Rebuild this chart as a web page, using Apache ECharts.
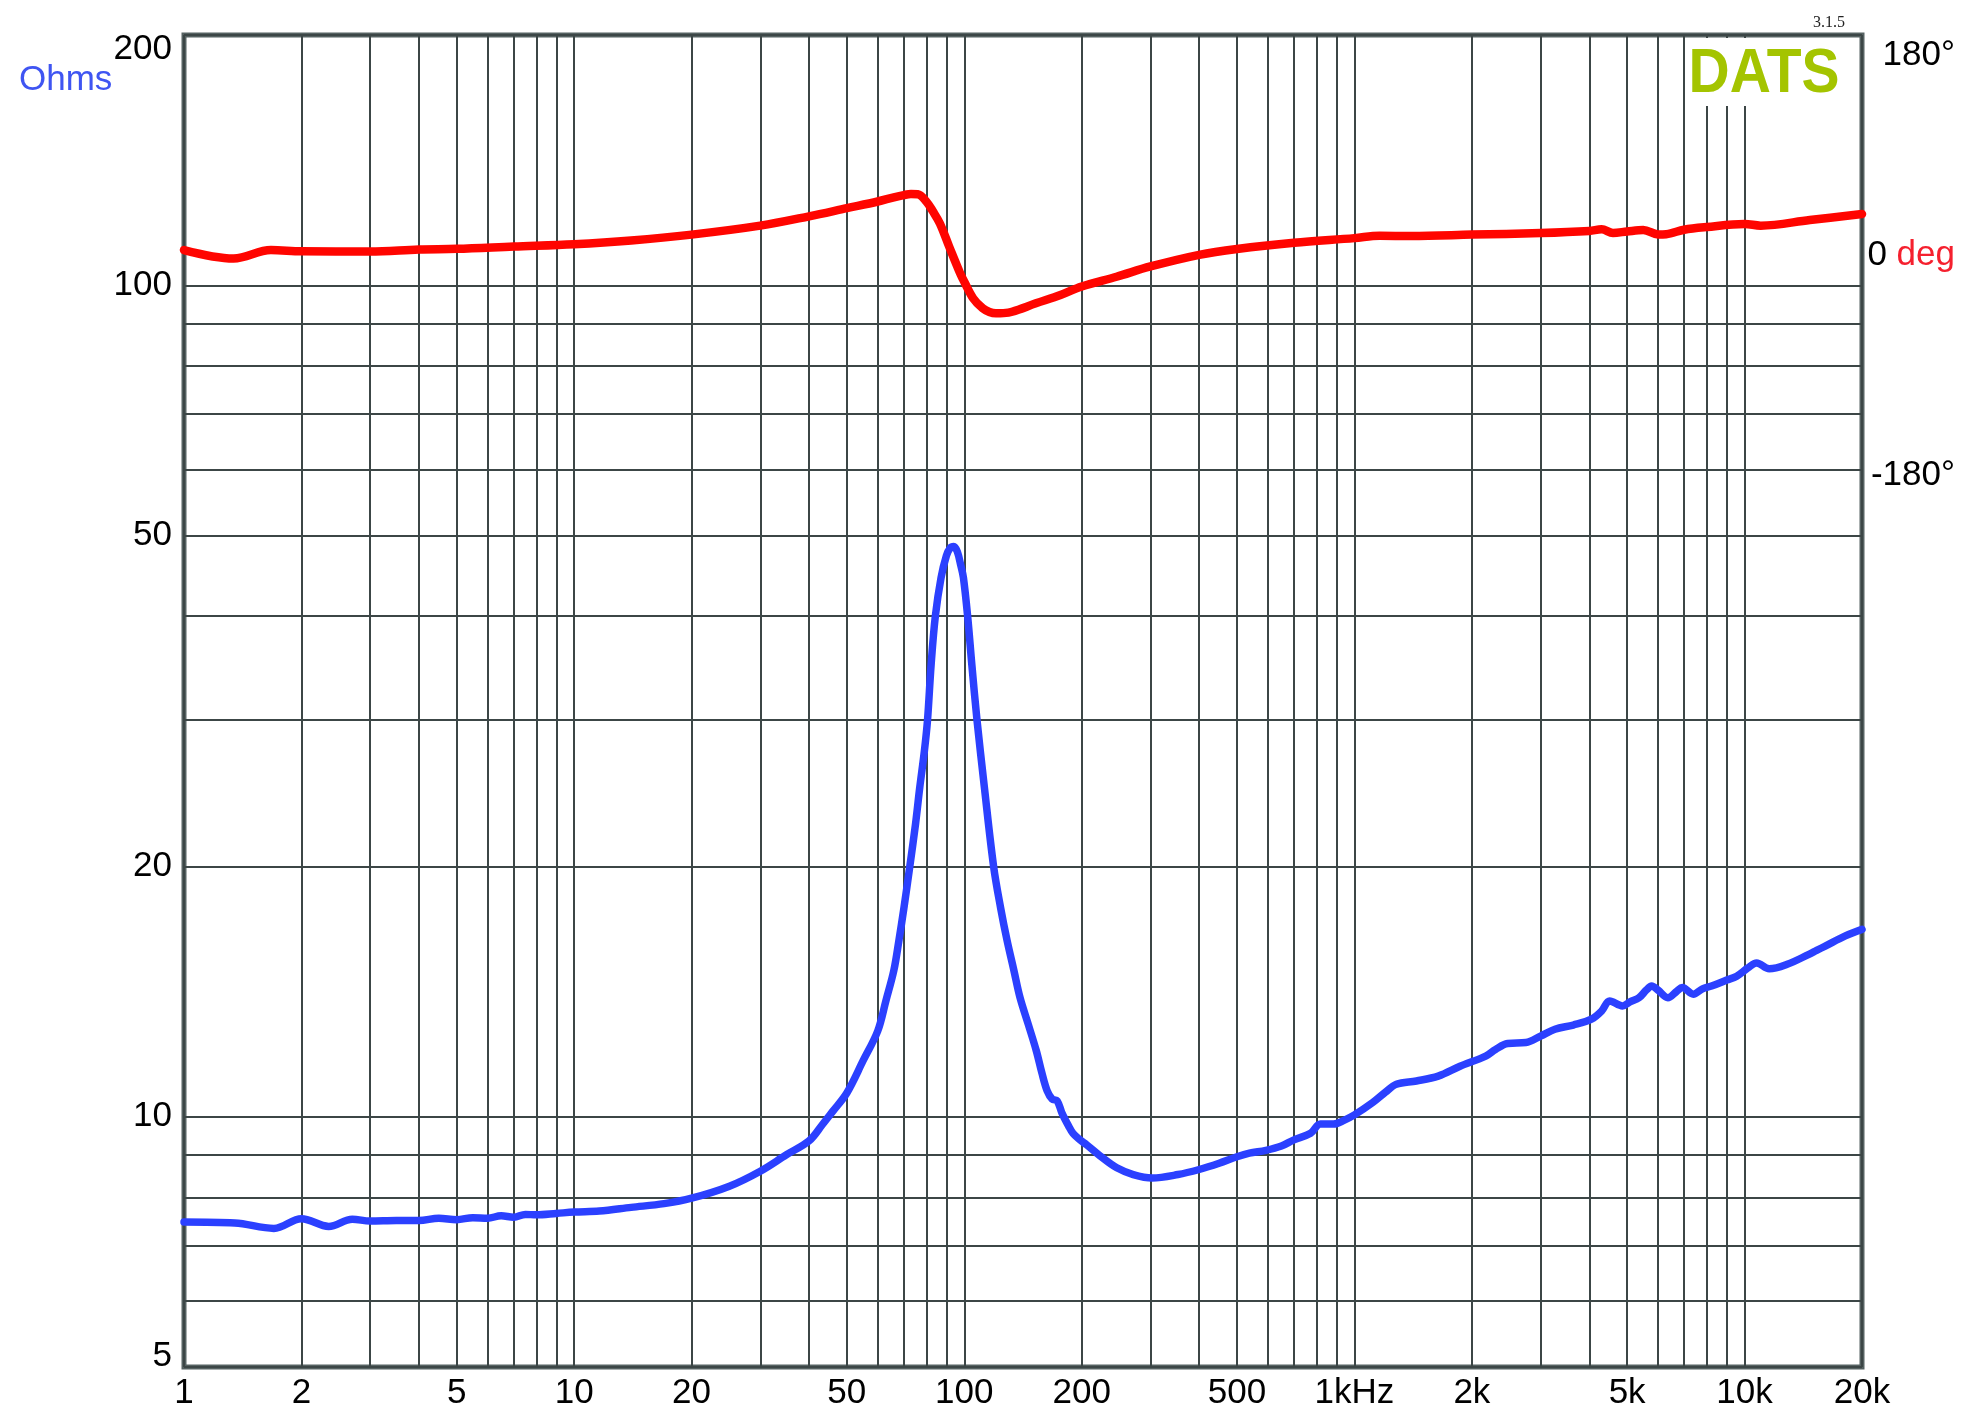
<!DOCTYPE html>
<html>
<head>
<meta charset="utf-8">
<script src="https://cdn.jsdelivr.net/npm/echarts@6/dist/echarts.min.js"></script>
<style>
html,body{margin:0;padding:0;background:#fff;}
#chart{width:1978px;height:1418px;}
</style>
</head>
<body>
<div id="chart"></div>
<script>
// ---- data ----
const impFreq = [1,1.35,1.7,2,2.35,2.7,3,3.5,4,4.5,5,5.5,6,6.5,7,7.5,8,9,10,11.6,14,17,20,25,30,35,40,43.4,46,50,55,60,63,66,68,70,72.5,75,76.9,79,80.5,82.2,84.3,87.2,90,92,94,96,98,99.5,102,104.6,107.8,112.6,118.9,124,128.7,134,139,146,153,158,163,168,173,178,185,190,198,206,223,246,271,303,353,400,450,500,538,593,650,700,772,818,884,940,1000,1114,1200,1281,1442,1640,1865,2170,2300,2470,2750,3000,3266,3639,4051,4300,4510,4865,5100,5361,5600,5779,6000,6358,6700,6925,7389,7800,8229,9000,9549,10200,10738,11568,12862,14620,15300,16100,18130,20000];
const impOhms = [7.47,7.45,7.34,7.54,7.38,7.53,7.49,7.5,7.5,7.55,7.52,7.56,7.55,7.6,7.57,7.63,7.62,7.65,7.68,7.7,7.78,7.86,7.98,8.25,8.6,9.0,9.35,9.8,10.15,10.68,11.67,12.68,13.8,15.0,16.3,17.8,20,22.5,24.9,27.5,30,34.9,40,44.5,47.3,48.3,48.5,47.8,46,44.5,40,34.9,30,24.9,20,17.8,16.3,15.0,13.9,12.9,12.0,11.3,10.75,10.5,10.45,10.1,9.75,9.55,9.38,9.25,8.97,8.68,8.52,8.44,8.52,8.64,8.79,8.95,9.04,9.11,9.22,9.38,9.55,9.8,9.8,9.9,10.05,10.4,10.7,10.94,11.04,11.19,11.5,11.83,12.05,12.25,12.28,12.5,12.74,12.89,13.1,13.4,13.78,13.59,13.75,13.9,14.2,14.36,14.2,13.9,14.15,14.3,14.04,14.25,14.36,14.6,14.76,15.1,15.31,15.06,15.25,15.68,15.85,16.04,16.5,16.8];

const phaseFreq = [1,1.34,1.67,2,3,4,5,7,10,14,20,30,40,50,60,66,70,73,76,80,83,86.6,91.5,97.6,100,105.4,111.5,116,120.5,126,132.6,152.6,176.4,200,245.6,300,400,500,700,1000,1160,1400,2000,3000,4000,4300,4600,5000,5500,6000,6300,7000,8000,10000,11000,14700,20000];
const phaseDeg = [2.6,-4.6,2.6,1.5,1.3,3.1,3.6,5.6,7.6,10.8,15.8,23.5,31.5,38.5,44.2,47.8,49.7,50.6,50.4,44,36,25.4,5.4,-17.4,-24.6,-38.8,-47.4,-50.6,-51.7,-51.5,-50.3,-43.1,-36,-28.6,-20.3,-11.5,-1.5,3.5,8.8,12.8,14.8,14.6,15.8,17.2,19,20.3,17.2,18.5,19.7,16,16.2,20,22.3,24.9,23.5,28.3,33.4];

const xGridVals = [1,2,3,4,5,6,7,8,9,10,20,30,40,50,60,70,80,90,100,200,300,400,500,600,700,800,900,1000,2000,3000,4000,5000,6000,7000,8000,9000,10000,20000];
const xLabelVals = [1,2,5,10,20,50,100,200,500,1000,2000,5000,10000,20000];
const xLabelText = ['1','2','5','10','20','50','100','200','500','1kHz','2k','5k','10k','20k'];
const yGridVals = [5,6,7,8,9,10,20,30,40,50,60,70,80,90,100,200];
const yLabelVals = [5,10,20,50,100,200];
const phaseLabelVals = [180,0,-180];

// ---- chart ----
const FONT = '"Liberation Sans", Arial, sans-serif';
const gridColor = '#3c4646';
const chart = echarts.init(document.getElementById('chart'), null, {renderer:'canvas'});

function nearestLabel(v){
  let best = 0, bd = Infinity;
  xLabelVals.forEach((x,i)=>{ const d = Math.abs(Math.log10(x)-Math.log10(v)); if(d<bd){bd=d;best=i;} });
  return xLabelText[best];
}

const option = {
  animation: false,
  backgroundColor: '#ffffff',
  grid: {left:184, right:116, top:35, bottom:51, show:true, borderColor:'#566262', borderWidth:5, backgroundColor:'#ffffff'},
  xAxis: {
    type:'log', logBase:10, min:1, max:20000,
    axisLine:{show:false},
    axisTick:{show:false, customValues:xGridVals},
    splitLine:{show:true, lineStyle:{color:gridColor, width:2}},
    minorSplitLine:{show:false},
    axisLabel:{customValues:xLabelVals, formatter:(v)=>nearestLabel(v), fontSize:35, fontFamily:FONT, color:'#000', margin:9}
  },
  yAxis: [
    {
      type:'log', logBase:10, min:5, max:200, position:'left',
      axisLine:{show:false},
      axisTick:{show:false, customValues:yGridVals},
      splitLine:{show:true, lineStyle:{color:gridColor, width:2}},
      axisLabel:{customValues:yLabelVals, fontSize:35, fontFamily:FONT, color:'#000', margin:12,
        formatter:(v)=>{ const r=Math.round(v); if(r===200) return '{t|200}'; if(r===5) return '{b|5}'; return '{n|'+r+'}'; },
        rich:{
          n:{fontSize:35, fontFamily:FONT, color:'#000'},
          t:{fontSize:35, fontFamily:FONT, color:'#000', padding:[28,0,0,0]},
          b:{fontSize:35, fontFamily:FONT, color:'#000', padding:[0,0,22,0]}
        }}
    },
    {
      type:'value', min:-954.8, max:186.9, position:'right',
      axisLine:{show:false}, axisTick:{show:false, customValues:phaseLabelVals}, splitLine:{show:false},
      axisLabel:{customValues:phaseLabelVals, align:'right', margin:93, fontSize:35, fontFamily:FONT, color:'#000',
        formatter:(v)=>{ const r=Math.round(v); if(r===0) return '{z|0 }{r|deg}'; return '{s|'+r+'°}'; },
        rich:{
          z:{fontSize:35, fontFamily:FONT, color:'#000', padding:[4,0,0,0]},
          r:{fontSize:35, fontFamily:FONT, color:'#f5202e', padding:[4,0,0,0]},
          s:{fontSize:35, fontFamily:FONT, color:'#000', padding:[24,0,0,0]}
        }}
    }
  ],
  graphic: [
    {type:'rect', z:1, shape:{x:1686, y:38, width:172, height:68}, style:{fill:'#ffffff'}},
    {type:'text', z:3, x:1764, y:75, scaleY:1.1, style:{text:'DATS', font:'bold 57px '+FONT, fill:'#a4c400', align:'center', verticalAlign:'middle'}},
    {type:'text', z:3, x:1829, y:23, style:{text:'3.1.5', font:'16px "Liberation Serif", "DejaVu Serif", serif', fill:'#222', align:'center', verticalAlign:'middle'}},
    {type:'text', z:3, x:19, y:80, style:{text:'Ohms', font:'35px '+FONT, fill:'#3f55f2', align:'left', verticalAlign:'middle'}}
  ],
  series: [
    {
      name:'Impedance', type:'line', xAxisIndex:0, yAxisIndex:0, showSymbol:false, symbol:'none',
      smooth:0.35,
      lineStyle:{color:'#2b40ff', width:7.5, cap:'round', join:'round'},
      data: impFreq.map((f,i)=>[f, impOhms[i]]), z:3
    },
    {
      name:'Phase', type:'line', xAxisIndex:0, yAxisIndex:1, showSymbol:false, symbol:'none',
      smooth:0.35,
      lineStyle:{color:'#ff0500', width:8.5, cap:'round', join:'round'},
      data: phaseFreq.map((f,i)=>[f, phaseDeg[i]]), z:3
    }
  ]
};
chart.setOption(option);
</script>
</body>
</html>
